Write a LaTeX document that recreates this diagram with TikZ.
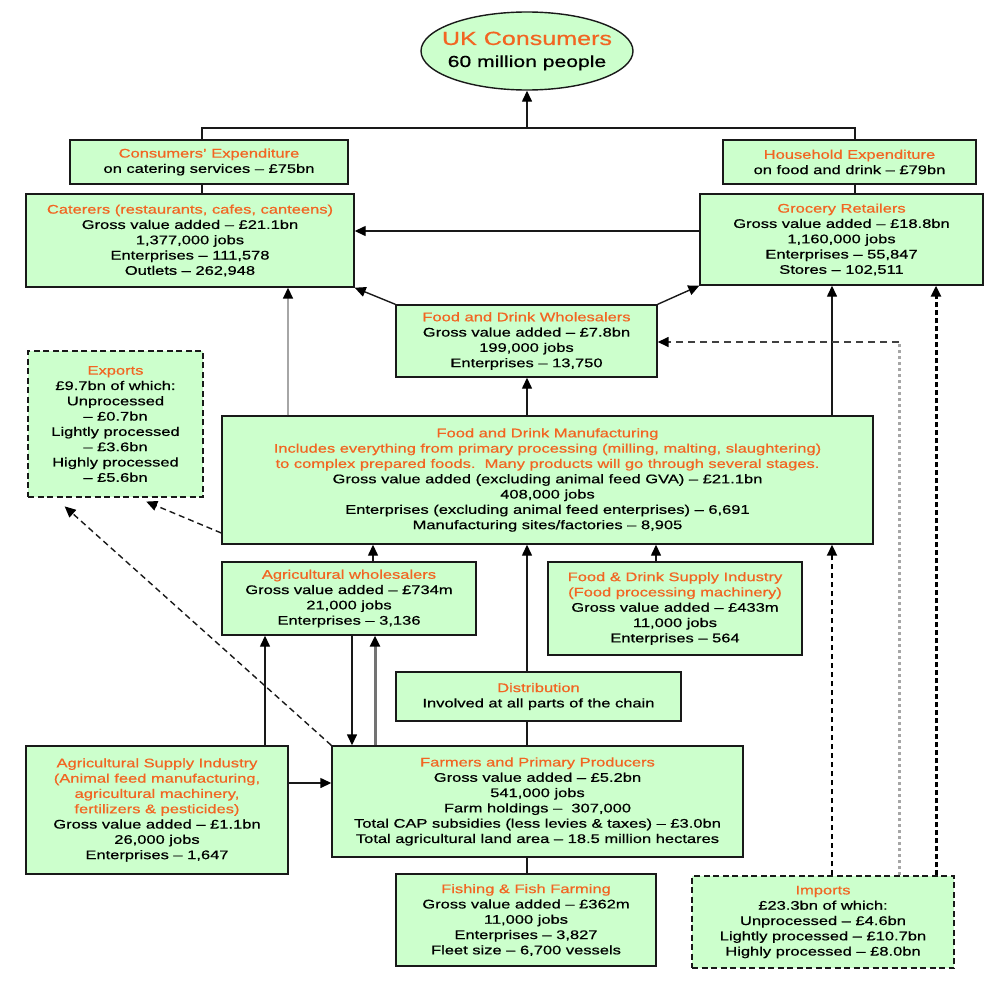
\documentclass[tikz,border=0pt]{standalone}
\usepackage{fontspec}
\setmainfont{Liberation Sans}[FakeStretch=1.32,FakeBold=0.6]
\usetikzlibrary{arrows.meta,shapes.geometric}
\definecolor{boxgreen}{RGB}{204,255,204}
\definecolor{ttlorange}{RGB}{242,101,34}
\definecolor{edgeblack}{RGB}{25,25,25}
\newcommand{\orng}[1]{\textcolor{ttlorange}{#1}}
\tikzset{
  box/.style={draw=edgeblack, line width=1.4pt, fill=boxgreen, align=center, inner sep=0pt,
    font=\fontsize{12.5}{15.3}\selectfont},
  dbox/.style={box, dash pattern=on 6pt off 3.5pt},
  tip/.style={-{Triangle[length=11pt,width=10pt,color=black]}},
  ln/.style={draw=edgeblack, line width=1.4pt},
  arr/.style={ln, tip},
  greyarr/.style={draw=black!35, line width=1.6pt, tip},
  thickgrey/.style={draw=black!55, line width=3pt, tip},
  exparr/.style={ln, dash pattern=on 6pt off 4pt, tip},
  imparr/.style={draw=black, line width=2pt, dash pattern=on 5pt off 4pt, tip},
  greydots/.style={draw=black!35, line width=3pt, dash pattern=on 3pt off 3pt},
  hdash/.style={draw=black!75, line width=1.6pt, dash pattern=on 7pt off 5pt, tip},
  blackdash/.style={draw=black, line width=3pt, dash pattern=on 5pt off 3pt, tip}
}
\begin{document}
\begin{tikzpicture}[x=1pt,y=-1pt]
\useasboundingbox (0,0) rectangle (1000,982);
% helper coordinates (x and y positions of connectors)
\coordinate (x202) at (202,0);
\coordinate (x855) at (855,0);
\coordinate (x288) at (288,0);
\coordinate (x527) at (527,0);
\coordinate (x832) at (832,0);
\coordinate (x373) at (373,0);
\coordinate (x656) at (656,0);
\coordinate (x352) at (352,0);
\coordinate (x375) at (375,0);
\coordinate (x265) at (265,0);
\coordinate (x936) at (936,0);
\coordinate (x137) at (137,0);
\coordinate (x55) at (55,0);
\coordinate (y231) at (0,231);
\coordinate (y533) at (0,533);
\coordinate (y783) at (0,783);

% nodes
\node[ellipse, draw=edgeblack, line width=1.4pt, fill=boxgreen, minimum width=212pt, minimum height=78pt,
  inner xsep=-12pt, inner ysep=0pt, align=center, font=\fontsize{19}{22}\selectfont] (uk) at (527,51)
  {\orng{UK Consumers}\\{\fontsize{16}{22}\selectfont 60 million people}};

\node[box, minimum width=278pt, minimum height=44pt] (ce) at (209,162)
  {\orng{Consumers' Expenditure}\\on catering services -- £75bn};
\node[box, minimum width=253pt, minimum height=44pt] (he) at (849.5,162)
  {\orng{Household Expenditure}\\on food and drink -- £79bn};

\node[box, minimum width=328pt, minimum height=93pt] (cat) at (190,240.5)
  {\orng{Caterers (restaurants, cafes, canteens)}\\Gross value added -- £21.1bn\\1,377,000 jobs\\Enterprises -- 111,578\\Outlets -- 262,948};
\node[box, minimum width=283pt, minimum height=91pt] (gr) at (841.5,239.5)
  {\orng{Grocery Retailers}\\Gross value added -- £18.8bn\\1,160,000 jobs\\Enterprises -- 55,847\\Stores -- 102,511};

\node[box, minimum width=261pt, minimum height=72pt] (wh) at (526.5,341)
  {\orng{Food and Drink Wholesalers}\\Gross value added -- £7.8bn\\199,000 jobs\\Enterprises -- 13,750};

\node[dbox, minimum width=175pt, minimum height=146pt] (ex) at (115.5,424)
  {\orng{Exports}\\£9.7bn of which:\\Unprocessed\\-- £0.7bn\\Lightly processed\\-- £3.6bn\\Highly processed\\-- £5.6bn};

\node[box, minimum width=651pt, minimum height=128pt] (mf) at (547.5,480)
  {\orng{Food and Drink Manufacturing}\\
   \orng{Includes everything from primary processing (milling, malting, slaughtering)}\\
   \orng{to complex prepared foods.\ \ Many products will go through several stages.}\\
   Gross value added (excluding animal feed GVA) -- £21.1bn\\408,000 jobs\\
   Enterprises (excluding animal feed enterprises) -- 6,691\\Manufacturing sites/factories -- 8,905};

\node[box, minimum width=254pt, minimum height=73pt] (aw) at (349,598.5)
  {\orng{Agricultural wholesalers}\\Gross value added -- £734m\\21,000 jobs\\Enterprises -- 3,136};
\node[box, minimum width=254pt, minimum height=93pt] (sup) at (675,608.5)
  {\orng{Food \& Drink Supply Industry}\\\orng{(Food processing machinery)}\\Gross value added -- £433m\\11,000 jobs\\Enterprises -- 564};

\node[box, minimum width=285pt, minimum height=49pt] (dist) at (538.5,696.5)
  {\orng{Distribution}\\Involved at all parts of the chain};

\node[box, minimum width=262pt, minimum height=128pt] (as) at (157,810)
  {\orng{Agricultural Supply Industry}\\\orng{(Animal feed manufacturing,}\\\orng{agricultural machinery,}\\\orng{fertilizers \& pesticides)}\\Gross value added -- £1.1bn\\26,000 jobs\\Enterprises -- 1,647};

\node[box, minimum width=411pt, minimum height=111pt] (fa) at (537.5,801.5)
  {\orng{Farmers and Primary Producers}\\Gross value added -- £5.2bn\\541,000 jobs\\Farm holdings -- \ 307,000\\Total CAP subsidies (less levies \& taxes) -- £3.0bn\\Total agricultural land area -- 18.5 million hectares};

\node[box, minimum width=260pt, minimum height=92pt] (fi) at (526,920)
  {\orng{Fishing \& Fish Farming}\\Gross value added -- £362m\\11,000 jobs\\Enterprises -- 3,827\\Fleet size -- 6,700 vessels};

\node[dbox, minimum width=262pt, minimum height=92pt] (im) at (823,922)
  {\orng{Imports}\\£23.3bn of which:\\Unprocessed -- £4.6bn\\Lightly processed -- £10.7bn\\Highly processed -- £8.0bn};

% connectors
\coordinate (j) at (527,128);
\draw[ln] (ce.north -| x202) |- (j) -| (he.north -| x855);
\draw[arr] (j) -- (uk.south);
\draw[ln] (ce.south -| x202) -- (cat.north -| x202);
\draw[ln] (he.south -| x855) -- (gr.north -| x855);
\draw[arr] (gr.west |- y231) -- (cat.east |- y231);
\draw[arr] (wh.north west) -- (cat.south east);
\draw[arr] (wh.north east) -- (gr.south west);
\draw[greyarr] (mf.north -| x288) -- (cat.south -| x288);
\draw[arr] (mf.north -| x527) -- (wh.south -| x527);
\draw[arr] (mf.north -| x832) -- (gr.south -| x832);
\draw[exparr, shorten >=10pt] (mf.west |- y533) -- (ex.south -| x137);
\draw[exparr, shorten >=13pt] (fa.north west) -- (ex.south -| x55);
\draw[arr] (aw.north -| x373) -- (mf.south -| x373);
\draw[arr] (sup.north -| x656) -- (mf.south -| x656);
\draw[arr] (dist.north -| x527) -- (mf.south -| x527);
\draw[ln] (fa.north -| x527) -- (dist.south -| x527);
\draw[imparr] (im.north -| x832) -- (mf.south -| x832);
\draw[arr] (aw.south -| x352) -- (fa.north -| x352);
\draw[thickgrey] (fa.north -| x375) -- (aw.south -| x375);
\draw[arr] (as.north -| x265) -- (aw.south -| x265);
\draw[arr] (as.east |- y783) -- (fa.west |- y783);
\draw[ln] (fa.south -| x527) -- (fi.north -| x527);
\coordinate (c1) at (899,342);
\draw[greydots] (im.north -| c1) -- (c1);
\draw[hdash] (c1) -- (wh.east |- c1);
\draw[blackdash] (im.north -| x936) -- (gr.south -| x936);
\end{tikzpicture}
\end{document}
